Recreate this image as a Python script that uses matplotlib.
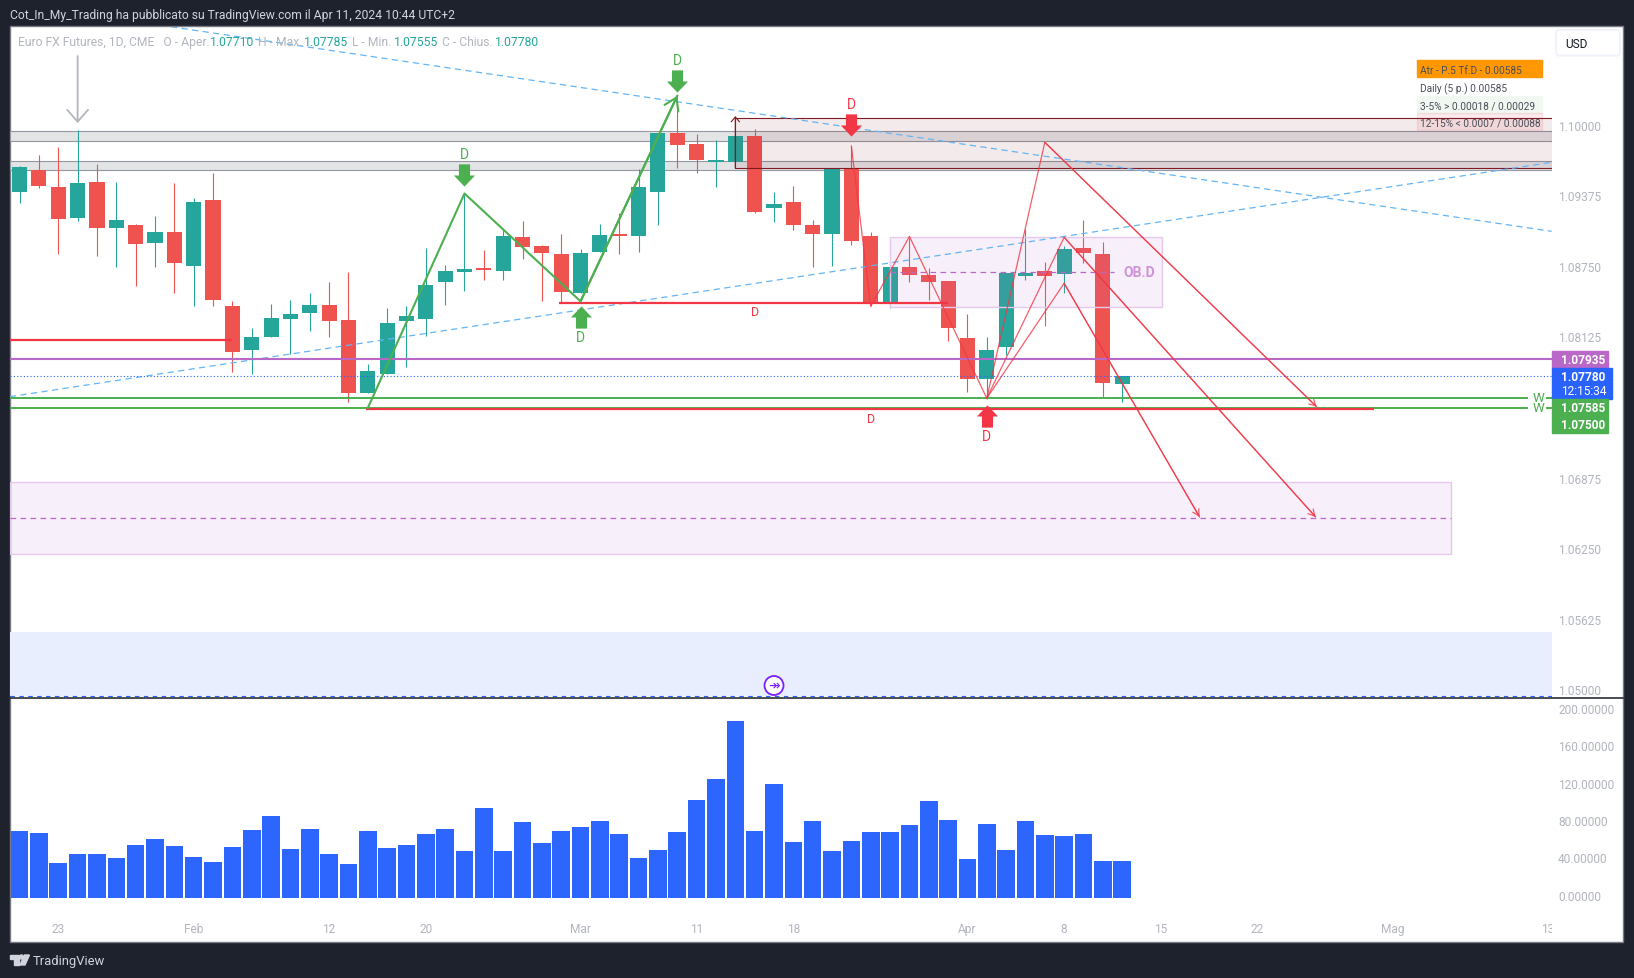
import matplotlib
matplotlib.use("Agg")
import matplotlib.pyplot as plt
from matplotlib.patches import Rectangle, Polygon, Circle, FancyBboxPatch
from matplotlib.path import Path
from matplotlib.transforms import Bbox, ScaledTranslation

W, H = 1634, 979
plt.rcParams['font.family'] = ['Roboto', 'DejaVu Sans']

# daily candles, oldest first
opens = [1.09415, 1.09605, 1.09455, 1.09185, 1.09500, 1.09090, 1.09120, 1.08965, 1.09060, 1.08760,
         1.09340, 1.08405, 1.08010, 1.08125, 1.08290, 1.08345, 1.08415, 1.08280, 1.07630, 1.07805,
         1.08275, 1.08290, 1.08620, 1.08705, 1.08730, 1.08710, 1.09015, 1.08935, 1.08865, 1.08515,
         1.08885, 1.09040, 1.09025, 1.09415, 1.09935, 1.09840, 1.09680, 1.09680, 1.09910, 1.09270,
         1.09325, 1.09120, 1.09045, 1.09625, 1.09025, 1.08435, 1.08750, 1.08680, 1.08625, 1.08120,
         1.07755, 1.08045, 1.08670, 1.08715, 1.08690, 1.08915, 1.08865, 1.07710]
highs = [1.09645, 1.09740, 1.09810, 1.09965, 1.09660, 1.09500, 1.09130, 1.09200, 1.09495, 1.09360,
         1.09580, 1.08450, 1.08210, 1.08420, 1.08455, 1.08520, 1.08615, 1.08705, 1.07890, 1.08385,
         1.08405, 1.08915, 1.08765, 1.09395, 1.08900, 1.09085, 1.09155, 1.08945, 1.09040, 1.08910,
         1.09130, 1.09225, 1.09615, 1.09935, 1.10265, 1.09925, 1.09875, 1.09910, 1.09970, 1.09415,
         1.09465, 1.09165, 1.09625, 1.09820, 1.09060, 1.08800, 1.09020, 1.08740, 1.08625, 1.08335,
         1.08130, 1.08700, 1.09085, 1.08795, 1.08935, 1.09165, 1.08970, 1.07785]
lows = [1.09320, 1.09450, 1.08865, 1.09160, 1.08850, 1.08750, 1.08585, 1.08745, 1.08515, 1.08400,
        1.08400, 1.07820, 1.07805, 1.08125, 1.07975, 1.08185, 1.08125, 1.07555, 1.07630, 1.07805,
        1.07860, 1.08140, 1.08415, 1.08540, 1.08630, 1.08630, 1.08820, 1.08450, 1.08435, 1.08515,
        1.08885, 1.08860, 1.08885, 1.09125, 1.09630, 1.09585, 1.09460, 1.09680, 1.09230, 1.09150,
        1.09080, 1.08750, 1.08760, 1.08940, 1.08405, 1.08390, 1.08620, 1.08460, 1.08090, 1.07645,
        1.07580, 1.07970, 1.08635, 1.08230, 1.08520, 1.08785, 1.07600, 1.07555]
closes = [1.09635, 1.09470, 1.09170, 1.09495, 1.09090, 1.09165, 1.08955, 1.09060, 1.08785, 1.09325,
          1.08460, 1.08000, 1.08130, 1.08300, 1.08335, 1.08415, 1.08275, 1.07630, 1.07830, 1.08255,
          1.08315, 1.08590, 1.08715, 1.08730, 1.08725, 1.09025, 1.08930, 1.08875, 1.08530, 1.08875,
          1.09030, 1.09025, 1.09455, 1.09935, 1.09830, 1.09695, 1.09695, 1.09910, 1.09240, 1.09305,
          1.09125, 1.09045, 1.09625, 1.08975, 1.08435, 1.08750, 1.08680, 1.08620, 1.08210, 1.07755,
          1.08015, 1.08695, 1.08695, 1.08670, 1.08910, 1.08875, 1.07725, 1.07780]

# volume-style histogram under the candles
volumes = [71.8, 69.6, 37.5, 47.1, 47.1, 42.9, 56.8, 63.2, 55.7, 43.9,
           38.6, 54.6, 72.9, 87.9, 52.5, 73.9, 47.1, 36.4, 71.8, 53.6,
           56.8, 68.6, 73.9, 50.4, 96.4, 50.4, 81.4, 58.9, 71.8, 76.1,
           82.5, 68.6, 42.9, 51.4, 70.7, 105.0, 127.5, 189.6, 71.8, 122.1,
           60.0, 82.5, 50.4, 61.1, 70.7, 70.7, 78.2, 103.9, 83.6, 41.8,
           79.3, 51.4, 82.5, 67.5, 66.4, 68.6, 39.6, 39.6]

price_ticks = [1.10000, 1.09375, 1.08750, 1.08125, 1.06875, 1.06250, 1.05625, 1.05000]
vol_ticks = [0, 40, 80, 120, 160, 200]
date_pos = [2, 9, 16, 21, 29, 35, 40, 49, 54, 59, 64, 71, 79]
date_labels = ['23', 'Feb', '12', '20', 'Mar', '11', '18', 'Apr', '8', '15', '22', 'Mag', '13']

# horizontal levels
level_purple = 1.07935
level_last = 1.07780
level_green_hi = 1.07585
level_green_lo = 1.07500
grey_zones = [(1.09862, 1.09956), (1.09605, 1.09690)]

# drawn structure: (bar index, price)
green_zig = [(18, 1.07500), (23, 1.09400), (29, 1.08445), (34, 1.10265)]
red_zig_main = [(43, 1.09820), (44, 1.08401), (46, 1.09020), (50, 1.07587), (53, 1.09853), (67.05, 1.07512)]
red_zig_2 = [(50, 1.07587), (54, 1.09012), (67, 1.06536)]
red_zig_3 = [(50, 1.07587), (54, 1.08605), (61, 1.06536)]
down_trend = [(7.83, 1.10876), (79.2, 1.09065)]
up_trend = [(-0.5, 1.07601), (79.2, 1.09676)]
red_levels = [(-0.5, 11, 1.08103), (27.9, 48, 1.08430), (17.9, 70, 1.07492)]

DARK = '#1e222d'
TEAL = '#26a69a'
RED = '#ef5350'
ALERT = '#f23645'
GREEN = '#4caf50'
PURPLE = '#ba68c8'
BLUE = '#2962ff'
GREY = '#b2b5be'


def fx(x):
    return x / W


def fy(y):
    return 1 - y / H


def put(x, y, s, **kw):
    kw.setdefault('va', 'center')
    return fig.text(fx(x), fy(y), s, **kw)


def pane(x0, y0, x1, y1):
    return fig.add_axes([fx(x0), fy(y1), fx(x1) - fx(x0), fy(y0) - fy(y1)])


def block(x0, y0, x1, y1, color, **kw):
    fig.patches.append(Rectangle((fx(x0), fy(y1)), fx(x1) - fx(x0), fy(y0) - fy(y1), color=color,
                                 transform=fig.transFigure, figure=fig, **kw))


def raise_labels(axis, pixels):
    # nudge y tick labels upward so they sit on their grid value
    shift = ScaledTranslation(0, pixels * 0.72 / 72, fig.dpi_scale_trans)
    for lab in axis.get_yticklabels():
        lab.set_transform(lab.get_transform() + shift)


fig = plt.figure(figsize=(W / 100, H / 100), dpi=100, facecolor=DARK)
fig.patches.append(Rectangle((fx(10), fy(943)), fx(1613), fy(27) - fy(943), facecolor='white',
                             edgecolor='#787b86', lw=1, transform=fig.transFigure, figure=fig, zorder=-5))

ax = pane(10, 28, 1552, 698)
axv = pane(10, 700, 1552, 905)
for a in (ax, axv):
    a.set_xlim(-0.496, 79.22)
    a.patch.set_alpha(0)
    for s in a.spines.values():
        s.set_visible(False)
ax.set_ylim(1.04942, 1.10874)
axv.set_ylim(-6.4, 213.3)

# zones behind the candles
for lo, hi in grey_zones:
    ax.axhspan(lo, hi, facecolor='#e3e4e6', edgecolor='#9598a1', lw=0.8, zorder=1)
ax.axhspan(1.04954, 1.05520, facecolor='#e8eefd', edgecolor='none', zorder=1)
ax.axhline(1.04954, color=BLUE, lw=0.8, ls=(0, (4, 4)), zorder=2)

# candles
for i, (o, h, l, c) in enumerate(zip(opens, highs, lows, closes)):
    col = TEAL if c >= o else RED
    ax.plot([i, i], [l, h], color=col, lw=0.8, zorder=3, solid_capstyle='butt')
    ax.add_patch(Rectangle((i - 0.39, min(o, c)), 0.78, max(abs(c - o), 0.00012), color=col, lw=0, zorder=3))

# boxes over the candles
ax.add_patch(Rectangle((37.0, 1.09623), 43, 0.00443, facecolor='#801922', alpha=0.09, lw=0, zorder=4))
ax.plot([80, 37.0, 37.0, 80], [1.09623, 1.09623, 1.10066, 1.10066], color='#801922', lw=0.8, zorder=4)
ax.annotate('', xy=(37.0, 1.10085), xytext=(37.0, 1.09623), zorder=4,
            arrowprops=dict(arrowstyle='->,head_length=0.35,head_width=0.3', color='#801922', lw=0.8, shrinkA=0, shrinkB=0))

ax.add_patch(Rectangle((45.01, 1.08392), 14.03, 0.0062, facecolor=(0.73, 0.41, 0.78, 0.1),
                       edgecolor='#e6c8ec', lw=1, zorder=4))
ax.plot([45.01, 56.6], [1.08702, 1.08702], color=PURPLE, lw=0.9, ls=(0, (4.5, 3.5)), zorder=5)
ax.text(57.9, 1.08702, 'OB.D', color='#ce93d8', fontsize=10, fontweight='bold', ha='center', va='center', zorder=6)

ax.add_patch(Rectangle((-0.5, 1.06205), 74.5, 0.00644, facecolor=(0.73, 0.41, 0.78, 0.1),
                       edgecolor='#e6c8ec', lw=1, zorder=1))
ax.plot([-0.5, 74], [1.06527, 1.06527], color=PURPLE, lw=0.9, ls=(0, (4.5, 3.5)), zorder=2)

# trend lines
for line in (down_trend, up_trend):
    xs, ys = zip(*line)
    ax.plot(xs, ys, color='#64b5f6', lw=0.9, ls=(0, (5, 3.5)), zorder=5)

# price levels
ax.axhline(level_purple, color=PURPLE, lw=1.5, zorder=6)
ax.axhline(level_last, color=BLUE, lw=0.8, ls=(0, (1, 2)), zorder=6)
for lev in (level_green_hi, level_green_lo):
    ax.plot([-0.5, 78], [lev, lev], color=GREEN, lw=1.4, zorder=6, solid_capstyle='butt')
    ax.plot([78.9, 79.3], [lev, lev], color=GREEN, lw=1.4, zorder=6, solid_capstyle='butt')
for x0, x1, lev in red_levels:
    ax.plot([x0, x1], [lev, lev], color=ALERT, lw=1.6, zorder=7, solid_capstyle='butt')

# zigzags
xs, ys = zip(*green_zig)
ax.plot(xs, ys, color=GREEN, lw=1.5, zorder=7)
ax.annotate('', xy=green_zig[-1], xytext=green_zig[-2], zorder=7,
            arrowprops=dict(arrowstyle='->,head_length=0.85,head_width=0.55', color=GREEN, lw=1.5, shrinkA=0, shrinkB=0))
for zig in (red_zig_main, red_zig_2, red_zig_3):
    xs, ys = zip(*zig)
    ax.plot(xs, ys, color=ALERT, lw=0.9, alpha=0.8, zorder=7)
for zig in (red_zig_main, red_zig_2, red_zig_3):
    ax.annotate('', xy=zig[-1], xytext=zig[-2], zorder=7,
                arrowprops=dict(arrowstyle='->,head_length=0.45,head_width=0.25', color=ALERT, lw=0.9, alpha=0.8, shrinkA=0, shrinkB=0))

# long grey arrow above the spike
ax.annotate('', xy=(3, 1.10024), xytext=(3, 1.10617), zorder=7,
            arrowprops=dict(arrowstyle='->,head_length=0.85,head_width=0.75', color=GREY, lw=1.3, shrinkA=0, shrinkB=0))

# pivot arrows
down_arrow = Path([(-0.5, 1), (0.5, 1), (0.5, 0), (0.95, 0), (0, -1), (-0.95, 0), (-0.5, 0), (-0.5, 1)], closed=True)
up_arrow = Path([(-0.5, -1), (0.5, -1), (0.5, 0), (0.95, 0), (0, 1), (-0.95, 0), (-0.5, 0), (-0.5, -1)], closed=True)
pivots = [(23, 1.09564, down_arrow, GREEN, 1.09750), (34, 1.10397, down_arrow, GREEN, 1.10582),
          (29, 1.08306, up_arrow, GREEN, 1.08129), (43, 1.10007, down_arrow, ALERT, 1.10192),
          (50, 1.07430, up_arrow, ALERT, 1.07256)]
for bar, price, marker, col, text_price in pivots:
    ax.plot([bar], [price], marker=marker, ms=16, color=col, mew=0, zorder=8, ls='none')
    ax.text(bar, text_price, 'D', color=col, fontsize=10, ha='center', va='center', zorder=8)
ax.text(38, 1.08351, 'D', color=ALERT, fontsize=9, ha='center', va='center', zorder=8)
ax.text(44, 1.07412, 'D', color=ALERT, fontsize=9, ha='center', va='center', zorder=8)

# session-break icon on the time axis
icon_x, icon_y = 774, 686.5
fig.patches.append(Circle((icon_x, H - icon_y), 9.5, facecolor='white', edgecolor='#7b1fff', lw=1.3,
                          transform=None, figure=fig, zorder=9))
put(icon_x, icon_y, '\u21a0', color='#7b1fff', fontsize=10, ha='center', zorder=10, family='DejaVu Sans')

# axis cosmetics
ax.set_xticks([])
ax.yaxis.tick_right()
ax.set_yticks(price_ticks)
ax.set_yticklabels([f'{p:.5f}' for p in price_ticks])
ax.tick_params(axis='y', length=0, pad=4.5, labelsize=8.6, labelcolor=GREY)
raise_labels(ax, 1)

axv.bar(range(len(volumes)), volumes, width=0.91, color=BLUE, alpha=0.98, lw=0)
axv.yaxis.tick_right()
axv.set_yticks(vol_ticks)
axv.set_yticklabels([f'{v:.5f}' for v in vol_ticks])
axv.tick_params(axis='y', length=0, pad=4.5, labelsize=8.6, labelcolor=GREY)
raise_labels(axv, 3.5)
axv.set_xticks(date_pos)
axv.set_xticklabels(date_labels)
axv.tick_params(axis='x', length=0, pad=13, labelsize=8.6, labelcolor=GREY)
axv.get_xticklabels()[-1].set_clip_box(Bbox([[0, 0], [1552, H]]))
axv.get_xticklabels()[-1].set_clip_on(True)

fig.add_artist(plt.Line2D([fx(10), fx(1623)], [fy(699.3), fy(699.3)], color='#2a2e39', lw=1.2))

# header and legend
put(10, 15, 'Cot_In_My_Trading ha pubblicato su TradingView.com il Apr 11, 2024 10:44 UTC+2', color='#d1d4dc', fontsize=8.7)
put(18, 42.5, 'Euro FX Futures, 1D, CME   O - Aper.', color=GREY, fontsize=8.7)
for x, s, c in [(209.6, '1.07710', TEAL), (258, 'H - Max.', GREY), (303.6, '1.07785', TEAL), (352.5, 'L - Min.', GREY),
                (393.6, '1.07555', TEAL), (442.5, 'C - Chius.', GREY), (495, '1.07780', TEAL)]:
    put(x, 42.5, s, color=c, fontsize=8.7)

# ATR table
block(1417, 61, 1542, 78, '#ff9800', zorder=11)
block(1417, 97, 1542, 114, '#f1f8f1', zorder=-1)
block(1417, 114, 1542, 131, '#f23645', alpha=0.1, zorder=-1)
for y, s in [(70.5, 'Atr - P.5 Tf.D - 0.00585'), (89, 'Daily (5 p.) 0.00585'),
             (106.5, '3-5% > 0.00018 / 0.00029'), (123.5, '12-15% < 0.0007 / 0.00088')]:
    put(1420, y, s, color='#4a4e59', fontsize=7.3, zorder=12)

# currency button
fig.patches.append(FancyBboxPatch((1556, H - 56.5), 64, 25.5, boxstyle='round,pad=0,rounding_size=3', facecolor='white',
                                  edgecolor='#f0f3fa', lw=1.5, transform=None, figure=fig))
put(1565, 44, 'USD', color='#131722', fontsize=8.6)

# price tags
block(1552, 352.3, 1608, 369, PURPLE, zorder=11)
block(1552, 369, 1612, 400, BLUE, zorder=11)
block(1552, 400, 1608, 434, GREEN, zorder=11)
for y, s in [(360.5, '1.07935'), (377.5, '1.07780'), (392, '12:15:34'), (408.5, '1.07585'), (425.5, '1.07500')]:
    put(1560.7, y, s, color='white', fontsize=8.6, fontweight='bold' if s != '12:15:34' else 'normal', zorder=12)
put(1538, 398.5, 'W', color=GREEN, fontsize=9.5, ha='center', zorder=12)
put(1538, 408.5, 'W', color=GREEN, fontsize=9.5, ha='center', zorder=12)

# footer logo
for pts in ([(10, 956), (18.5, 956), (18.5, 966), (14, 966), (14, 960), (10, 960)],
            [(24.5, 956), (29.5, 956), (25, 966), (20, 966)]):
    fig.patches.append(Polygon([(x, H - y) for x, y in pts], color='#d1d4dc', transform=None, figure=fig))
fig.patches.append(Circle((21.5, H - 958), 2, color='#d1d4dc', transform=None, figure=fig))
put(33, 961.5, 'TradingView', color='#d1d4dc', fontsize=9.4)

fig.savefig('out.png', dpi=100, facecolor=DARK)
